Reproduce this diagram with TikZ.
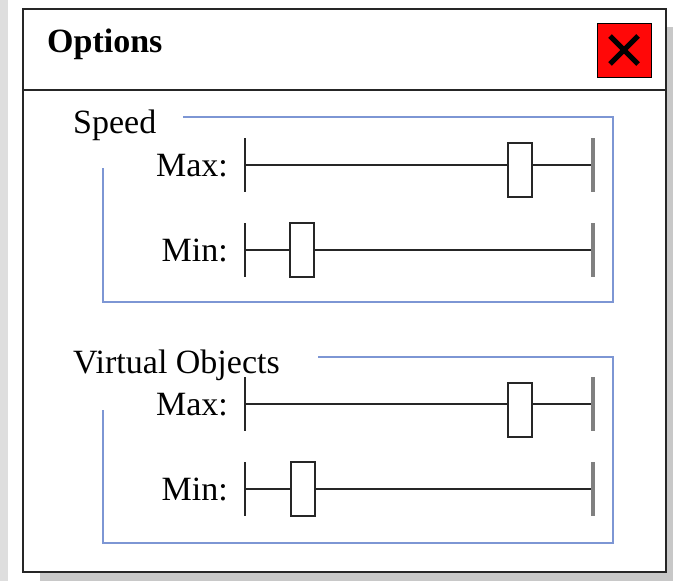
\documentclass[tikz,border=0pt]{standalone}
\usepackage{fontspec}
\setmainfont{Liberation Serif}
\definecolor{groupblue}{RGB}{125,150,212}
\definecolor{shadowgray}{RGB}{200,200,200}
\definecolor{stripgray}{RGB}{222,222,222}
\definecolor{closered}{RGB}{255,8,8}
\begin{document}
\begin{tikzpicture}[x=1pt, y=-1pt,
    txt/.style={inner sep=0pt, font=\fontsize{34}{40}\selectfont},
    lbl/.style={txt, anchor=base east},
    group/.style={draw=groupblue, line width=2pt},
    track/.style={draw=black!85, line width=2pt},
    endtick/.style={draw=black!50, line width=3.5pt},
    thumb/.style={draw=black!85, line width=2pt, fill=white, minimum width=24pt, minimum height=54pt, inner sep=0pt}]

    % Page and window shadow
    \useasboundingbox (0,0) rectangle (673,581);
    \fill[white] (0,0) rectangle (673,581);
    \fill[stripgray] (0,0) rectangle (8,581);
    \fill[shadowgray] (40,27) rectangle (673,581);

    % Window
    \draw[fill=white, draw=black!85, line width=2pt] (23,9) rectangle (666,572);
    \draw[black!85, line width=2pt] (23,90) -- (666,90);
    \node[txt, anchor=base west, font=\fontsize{34}{40}\selectfont\bfseries] (title) at (47,52) {Options};

    % Close button
    \node[draw=black, fill=closered, line width=1pt, minimum size=54pt, inner sep=0pt] (close) at (624,50) {};
    \draw[line width=5pt] ([shift={(-14,-14)}]close.center) -- ([shift={(14,14)}]close.center);
    \draw[line width=5pt] ([shift={(-14,14)}]close.center) -- ([shift={(14,-14)}]close.center);

    % Group boxes
    \node[txt, anchor=base west] (speed) at (73,133) {Speed};
    \draw[group] (183,117) -- (613,117) -- (613,302) -- (103,302) -- (103,168);

    \node[txt, anchor=base west] (virtual) at (73,373) {Virtual Objects};
    \draw[group] (318,357) -- (613,357) -- (613,543) -- (103,543) -- (103,410);

    % Sliders: line y / thumb x / label / thumb shift
    \foreach \y/\t/\lab/\dy in {165/520/Max/5, 250/302/Min/0, 404/520/Max/6, 489/303/Min/0}{
      \node[lbl] (lab\y) at (228,\y+11) {\lab:};
      \draw[track] (245,\y) -- (593,\y);
      \draw[track] (245,\y-27) -- (245,\y+27);
      \draw[endtick] (593,\y-27) -- (593,\y+27);
      \node[thumb] (thumb\y) at (\t,\y+\dy) {};
    }

\end{tikzpicture}
\end{document}
